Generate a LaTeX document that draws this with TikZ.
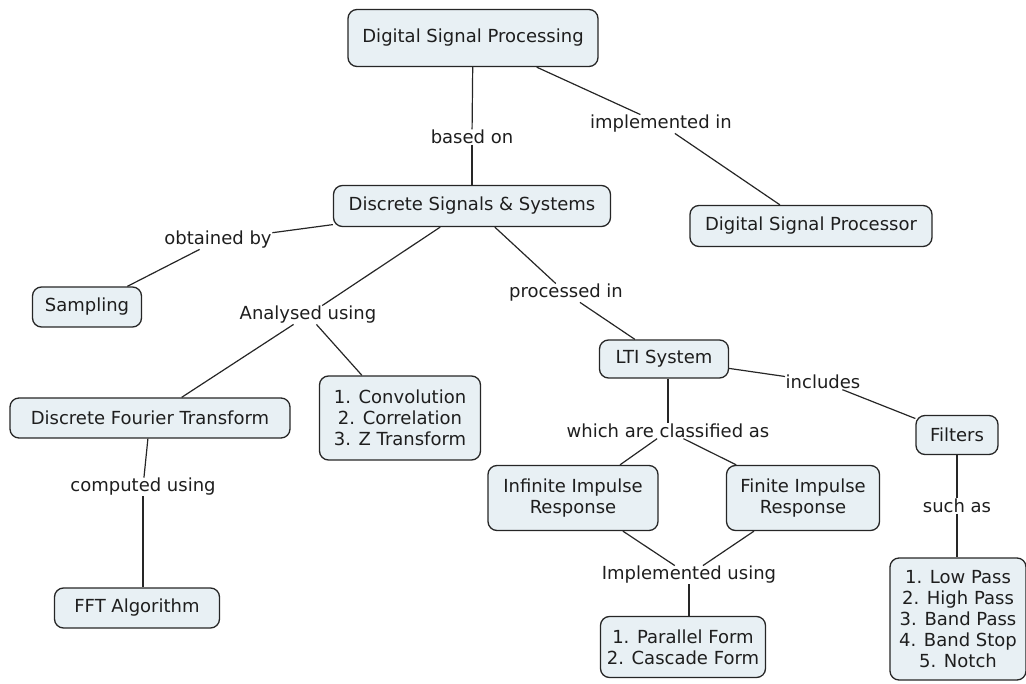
\documentclass[tikz,border=0pt]{standalone}
\usepackage{fontspec}
\setmainfont{DejaVu Sans}
\definecolor{boxfill}{HTML}{E8F0F4}
\definecolor{edgecol}{HTML}{262626}
\definecolor{textcol}{HTML}{1E1E1E}
\begin{document}
\begin{tikzpicture}[x=1pt,y=-1pt,
  concept/.style={draw=edgecol, line width=1.3pt, fill=boxfill, rounded corners=9pt,
    align=center, text=textcol, font=\fontsize{18}{21}\selectfont, inner sep=3pt},
  link/.style={align=center, text=textcol, font=\fontsize{18}{21}\selectfont, inner sep=0.5pt},
  conn/.style={draw=edgecol, line width=1.2pt}]
\useasboundingbox (0,0) rectangle (1026,684);
% concepts
\node[concept, minimum width=250, minimum height=57] (dsp) at (473,38) {Digital Signal Processing};
\node[concept, minimum width=277, minimum height=41] (dss) at (472,206) {Discrete Signals \& Systems};
\node[concept, minimum width=242, minimum height=41] (proc) at (811,226) {Digital Signal Processor};
\node[concept, minimum width=109, minimum height=40] (samp) at (87,307) {Sampling};
\node[concept, minimum width=129, minimum height=38] (lti) at (664,359) {LTI System};
\node[concept, minimum width=280, minimum height=40] (dft) at (150,418) {Discrete Fourier Transform};
\node[concept, minimum width=161, minimum height=84] (conv) at (400,418) {1. Convolution\\2. Correlation\\3. Z Transform};
\node[concept, minimum width=82, minimum height=39] (filt) at (957,435) {Filters};
\node[concept, minimum width=170, minimum height=65] (iir) at (573,498) {Infinite Impulse\\Response};
\node[concept, minimum width=153, minimum height=65] (fir) at (803,498) {Finite Impulse\\Response};
\node[concept, minimum width=165, minimum height=40] (fft) at (137,608) {FFT Algorithm};
\node[concept, minimum width=165, minimum height=61] (par) at (683,647) {1. Parallel Form\\2. Cascade Form};
\node[concept, minimum width=136, minimum height=122] (types) at (958,619) {1. Low Pass\\2. High Pass\\3. Band Pass\\4. Band Stop\\5. Notch};
% linking phrases
\node[link] (based) at (472,137) {based on};
\node[link] (impl) at (661,124) {implemented in};
\node[link] (obt) at (218,240) {obtained by};
\node[link] (anal) at (308,315) {Analysed using};
\node[link] (procin) at (566,293) {processed in};
\node[link] (incl) at (823,382) {includes};
\node[link] (class) at (668,431) {which are classified as};
\node[link] (comp) at (143,487) {computed using};
\node[link] (such) at (957,506) {such as};
\node[link] (implu) at (689,575) {Implemented using};
% connectors
\draw[conn] (dsp) -- (based);
\draw[conn] (based) -- (dss);
\draw[conn] (dsp) -- (impl);
\draw[conn] (impl) -- (proc);
\draw[conn] (dss) -- (obt);
\draw[conn] (obt) -- (samp);
\draw[conn] (dss) -- (anal);
\draw[conn] (anal) -- (dft);
\draw[conn] (anal) -- (conv);
\draw[conn] (dss) -- (procin);
\draw[conn] (procin) -- (lti);
\draw[conn] (lti) -- (incl);
\draw[conn] (incl) -- (filt);
\draw[conn] (lti.south -| class) -- (class);
\draw[conn] (class) -- (iir);
\draw[conn] (class) -- (fir);
\draw[conn] (dft) -- (comp);
\draw[conn] (comp) -- (comp |- fft.north);
\draw[conn] (filt) -- (such);
\draw[conn] (such) -- (such |- types.north);
\draw[conn] (iir) -- (implu);
\draw[conn] (fir) -- (implu);
\draw[conn] (implu) -- (implu |- par.north);
\end{tikzpicture}
\end{document}
